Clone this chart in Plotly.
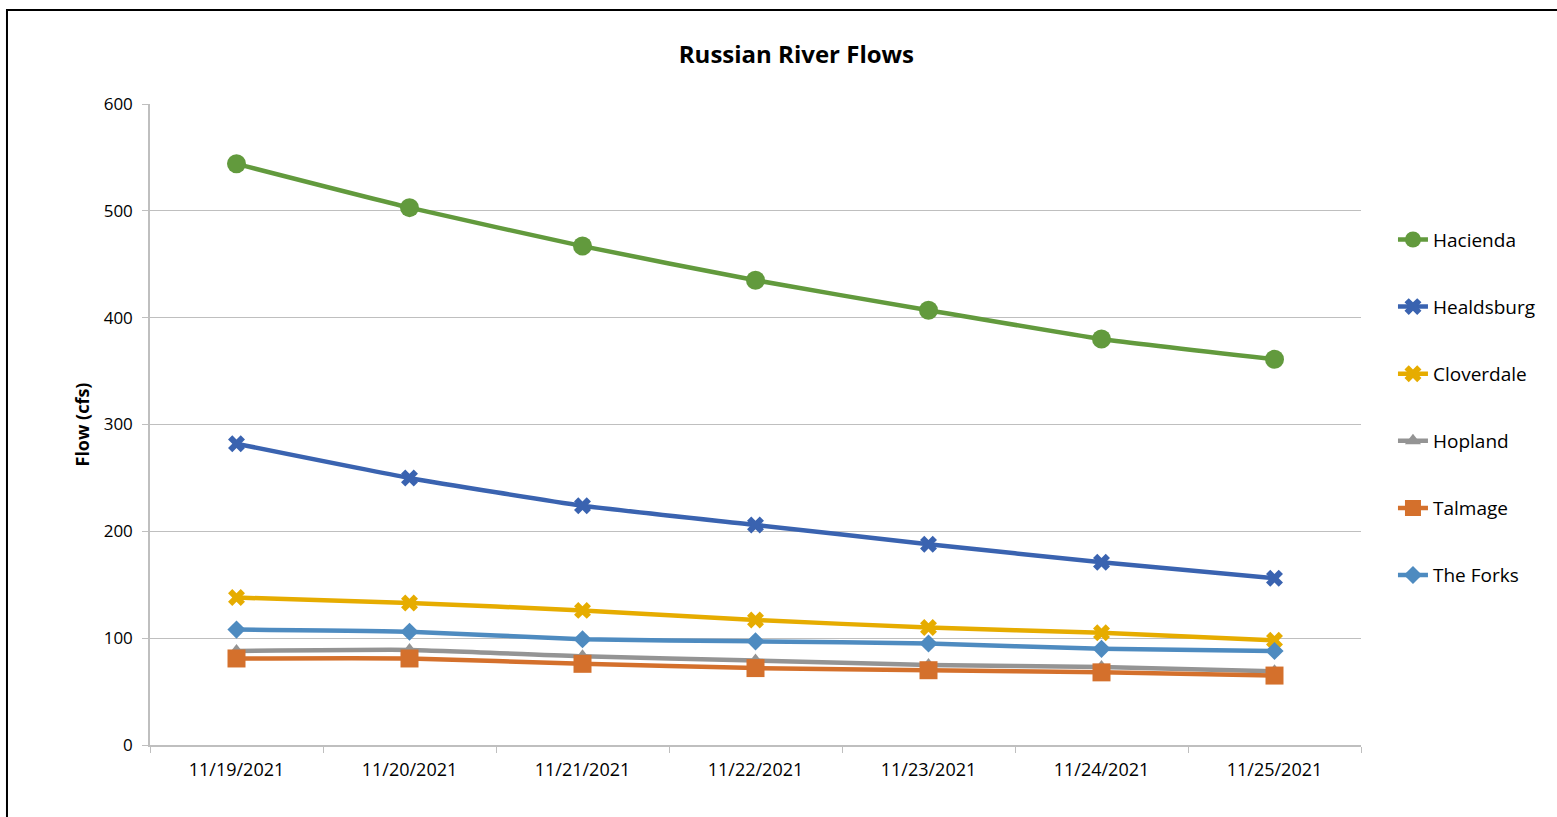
import plotly.graph_objects as go

# Daily mean flows (cfs) at Russian River gauges
dates = ["11/19/2021", "11/20/2021", "11/21/2021", "11/22/2021",
         "11/23/2021", "11/24/2021", "11/25/2021"]
hacienda = [544, 503, 467, 435, 407, 380, 361]
healdsburg = [282, 250, 224, 206, 188, 171, 156]
cloverdale = [138, 133, 126, 117, 110, 105, 98]
hopland = [88, 89, 83, 79, 75, 73, 69]
talmage = [81, 81, 76, 72, 70, 68, 65]
the_forks = [108, 106, 99, 97, 95, 90, 88]

y_ticks = [0, 100, 200, 300, 400, 500, 600]

series = [
    ("Hacienda", hacienda, "#629A3D", "circle", 19),
    ("Healdsburg", healdsburg, "#3A63B0", "x", 15),
    ("Cloverdale", cloverdale, "#E6AC00", "x", 15),
    ("Hopland", hopland, "#949494", "triangle-up", 14),
    ("Talmage", talmage, "#D4702C", "square", 18),
    ("The Forks", the_forks, "#4E8BC0", "diamond", 14),
]

fig = go.Figure()
for name, vals, color, symbol, size in series:
    fig.add_trace(go.Scatter(
        x=dates, y=vals, name=name, mode="lines+markers",
        legendgroup=name,
        line=dict(color=color, width=4.5, shape="spline", smoothing=0.5),
        marker=dict(color=color, symbol=symbol, size=size, line=dict(width=0)),
    ))

font_main = "Open Sans, Arial, sans-serif"

fig.update_layout(
    width=1557, height=817,
    margin=dict(l=150, r=196, t=104, b=72),
    paper_bgcolor="white", plot_bgcolor="white",
    font=dict(family=font_main, color="#000000", size=17),
    title=dict(text="<b>Russian River Flows</b>", x=0.5115, xanchor="center",
               y=0.933, yanchor="middle", font=dict(size=24, family=font_main)),
    showlegend=True,
    legend=dict(x=1.0264, xanchor="left", y=0.818, yanchor="top",
                font=dict(size=19, family=font_main), tracegroupgap=39.4,
                bgcolor="rgba(0,0,0,0)", itemwidth=30),
    xaxis=dict(type="category", tickson="boundaries", ticks="outside",
               ticklen=6, tickcolor="#BFBFBF", showline=True,
               linecolor="#BFBFBF", linewidth=1.5, showgrid=False,
               tickfont=dict(size=18), ticklabelstandoff=8,
               range=[-0.5, 6.5]),
    yaxis=dict(range=[0, 600], tickvals=y_ticks, ticks="outside", ticklen=6,
               tickcolor="#BFBFBF", showline=True, linecolor="#BFBFBF",
               linewidth=1.5, showgrid=True, gridcolor="#BFBFBF", gridwidth=1.2,
               zeroline=False, tickfont=dict(size=17), ticklabelstandoff=6,
               title=dict(text="<b>Flow (cfs)</b>", standoff=9,
                          font=dict(size=18))),
    shapes=[dict(type="rect", xref="paper", yref="paper",
                 x0=-0.1181, x1=1.3, y0=-0.3, y1=1.1467,
                 line=dict(color="#000000", width=2), fillcolor="rgba(0,0,0,0)",
                 layer="below")],
)

fig.write_html("out.html")
